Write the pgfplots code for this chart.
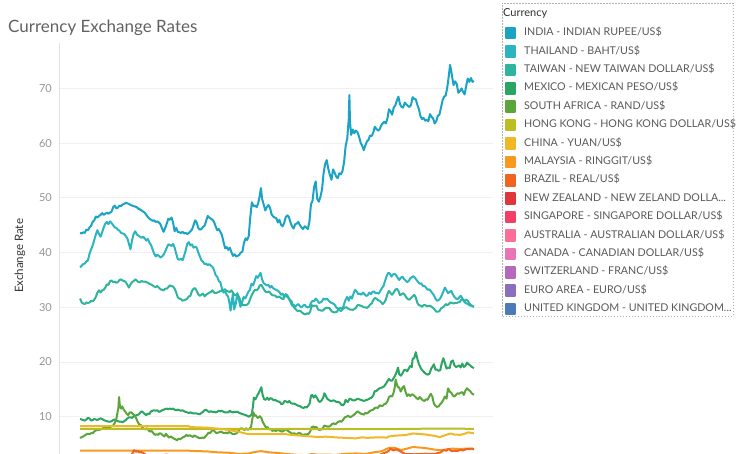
\documentclass[border=0pt]{standalone}
\usepackage{pgfplots}
\pgfplotsset{compat=1.18}
\usepackage{pgfplotstable}
\usepackage{fontspec}
\setmainfont{Lato}
\definecolor{cIND}{HTML}{1BA3C6}
\definecolor{cTHA}{HTML}{2CB5C0}
\definecolor{cTWN}{HTML}{2FB59E}
\definecolor{cMEX}{HTML}{2BA562}
\definecolor{cZAF}{HTML}{5BA63A}
\definecolor{cHKG}{HTML}{BCBD22}
\definecolor{cCHN}{HTML}{EFB826}
\definecolor{cMYS}{HTML}{F7981F}
\definecolor{cBRA}{HTML}{EF6421}
\definecolor{cNZL}{HTML}{E0353A}
\definecolor{cSGP}{HTML}{F43F65}
\definecolor{cAUS}{HTML}{FB6E97}
\definecolor{cCAN}{HTML}{E974B8}
\definecolor{cCHE}{HTML}{B669BC}
\definecolor{cEUR}{HTML}{8A6FBF}
\definecolor{cGBR}{HTML}{4B7CB8}

\pgfplotstableread{
x y
2000.00 43.6
2000.08 43.5
2000.16 43.7
2000.24 43.6
2000.32 44.2
2000.40 44.1
2000.48 44.6
2000.56 44.9
2000.64 45.6
2000.72 45.9
2000.80 46.6
2000.88 46.4
2000.96 46.7
2001.04 46.9
2001.12 47.2
2001.20 46.9
2001.28 47.1
2001.36 47.3
2001.44 47.1
2001.52 47.3
2001.60 47.5
2001.68 48.3
2001.76 48.6
2001.84 48.1
2001.92 48.2
2002.00 48.6
2002.08 48.5
2002.16 48.8
2002.24 48.9
2002.32 49.1
2002.40 49.0
2002.48 48.9
2002.56 48.7
2002.64 48.6
2002.72 48.5
2002.80 48.4
2002.88 48.3
2002.96 48.0
2003.04 47.9
2003.12 47.7
2003.20 47.5
2003.28 47.3
2003.36 46.9
2003.44 46.5
2003.52 46.2
2003.60 46.0
2003.68 45.8
2003.76 45.9
2003.84 45.6
2003.92 45.7
2004.00 45.5
2004.08 45.2
2004.16 44.4
2004.24 43.8
2004.32 44.5
2004.40 45.3
2004.48 46.2
2004.56 46.0
2004.64 46.4
2004.72 45.5
2004.80 43.9
2004.88 44.5
2004.96 43.8
2005.04 43.7
2005.12 43.6
2005.20 43.8
2005.28 43.5
2005.36 43.6
2005.44 43.4
2005.52 43.6
2005.60 43.9
2005.68 44.2
2005.76 45.0
2005.84 45.9
2005.92 45.5
2006.00 44.5
2006.08 44.2
2006.16 44.3
2006.24 44.7
2006.32 44.9
2006.40 45.8
2006.48 46.7
2006.56 46.4
2006.64 46.2
2006.72 46.0
2006.80 45.6
2006.88 44.8
2006.96 44.1
2007.04 44.3
2007.12 43.8
2007.20 43.2
2007.28 42.0
2007.36 40.8
2007.44 41.0
2007.52 40.5
2007.60 40.9
2007.68 40.1
2007.76 39.4
2007.84 39.7
2007.92 39.3
2008.00 39.4
2008.08 39.6
2008.16 40.0
2008.24 40.2
2008.32 41.8
2008.40 42.6
2008.48 42.3
2008.56 43.0
2008.64 46.5
2008.72 49.2
2008.80 48.5
2008.88 48.6
2008.96 48.3
2009.04 49.0
2009.12 50.4
2009.18 51.8
2009.24 49.8
2009.32 48.8
2009.40 47.7
2009.48 48.3
2009.56 48.7
2009.64 48.2
2009.72 47.0
2009.80 46.6
2009.88 46.4
2009.96 46.3
2010.04 45.5
2010.12 46.0
2010.20 45.1
2010.28 44.8
2010.36 45.4
2010.44 46.5
2010.52 46.8
2010.60 46.5
2010.68 45.5
2010.76 44.8
2010.84 44.4
2010.92 45.2
2011.00 45.3
2011.08 45.6
2011.16 45.0
2011.24 44.6
2011.32 44.3
2011.40 44.8
2011.48 44.6
2011.56 44.3
2011.64 45.6
2011.72 48.8
2011.80 49.5
2011.88 52.0
2011.96 53.0
2012.04 49.8
2012.12 49.3
2012.20 50.2
2012.28 51.5
2012.36 54.5
2012.44 56.2
2012.52 56.9
2012.60 55.3
2012.68 54.2
2012.76 53.3
2012.84 55.2
2012.92 54.6
2013.00 53.9
2013.08 53.6
2013.16 54.5
2013.24 54.3
2013.32 54.9
2013.40 56.5
2013.48 59.5
2013.56 60.8
2013.64 64.5
2013.67 68.8
2013.70 64.0
2013.76 61.5
2013.84 62.5
2013.92 61.8
2014.00 62.3
2014.08 62.0
2014.16 61.2
2014.24 60.1
2014.32 59.5
2014.40 58.7
2014.48 59.6
2014.56 60.3
2014.64 60.6
2014.72 61.4
2014.80 61.3
2014.88 61.9
2014.96 63.0
2015.04 62.6
2015.12 62.3
2015.20 62.5
2015.28 63.2
2015.36 63.6
2015.44 63.9
2015.52 63.6
2015.60 64.5
2015.68 66.2
2015.76 65.8
2015.84 65.2
2015.92 66.5
2016.00 66.9
2016.08 67.8
2016.16 68.5
2016.24 67.1
2016.32 66.6
2016.40 66.5
2016.48 67.4
2016.56 67.1
2016.64 66.8
2016.72 66.6
2016.80 67.0
2016.88 68.4
2016.96 68.1
2017.04 68.0
2017.12 67.0
2017.20 66.2
2017.28 64.9
2017.36 64.4
2017.44 64.6
2017.52 64.1
2017.60 64.3
2017.68 64.0
2017.76 65.3
2017.84 64.8
2017.92 64.5
2018.00 63.6
2018.08 64.0
2018.16 65.0
2018.24 65.2
2018.32 66.5
2018.40 67.8
2018.48 68.5
2018.56 68.7
2018.64 70.2
2018.72 72.4
2018.78 74.3
2018.84 73.2
2018.90 71.8
2018.96 70.6
2019.04 71.3
2019.12 70.8
2019.20 69.2
2019.28 69.5
2019.36 70.0
2019.44 69.4
2019.52 68.9
2019.60 70.5
2019.68 71.8
2019.76 71.2
2019.84 71.9
2019.92 71.2
2019.99 71.4
}\tIND

\pgfplotstableread{
x y
2000.00 37.3
2000.08 37.6
2000.16 37.9
2000.24 38.0
2000.32 38.4
2000.40 38.6
2000.48 39.8
2000.56 40.6
2000.64 41.3
2000.72 42.3
2000.80 43.3
2000.88 44.1
2000.96 43.4
2001.04 42.9
2001.12 43.7
2001.20 44.6
2001.28 45.3
2001.36 45.6
2001.44 45.2
2001.52 45.7
2001.60 45.4
2001.68 45.0
2001.76 44.6
2001.84 44.5
2001.92 44.2
2002.00 44.0
2002.08 43.6
2002.16 43.5
2002.24 43.4
2002.32 43.0
2002.40 42.6
2002.48 41.6
2002.56 40.6
2002.64 42.3
2002.72 43.4
2002.80 43.9
2002.88 43.3
2002.96 43.1
2003.04 42.9
2003.12 42.7
2003.20 42.9
2003.28 42.6
2003.36 42.2
2003.44 42.5
2003.52 41.8
2003.60 41.4
2003.68 40.6
2003.76 39.8
2003.84 39.3
2003.92 39.6
2004.00 39.4
2004.08 39.1
2004.16 39.3
2004.24 39.6
2004.32 40.2
2004.40 40.9
2004.48 41.5
2004.56 41.4
2004.64 41.2
2004.72 41.6
2004.80 40.9
2004.88 39.8
2004.96 38.8
2005.04 38.7
2005.12 38.9
2005.20 38.6
2005.28 39.4
2005.36 40.4
2005.44 41.6
2005.52 41.9
2005.60 41.3
2005.68 41.5
2005.76 40.9
2005.84 41.1
2005.92 40.9
2006.00 40.0
2006.08 39.3
2006.16 38.6
2006.24 38.3
2006.32 37.9
2006.40 38.0
2006.48 37.7
2006.56 37.9
2006.64 37.6
2006.72 37.4
2006.80 36.8
2006.88 35.9
2006.96 35.6
2007.04 34.8
2007.12 34.6
2007.20 33.4
2007.28 32.7
2007.36 32.9
2007.44 32.3
2007.52 31.9
2007.58 30.8
2007.64 29.4
2007.70 31.2
2007.76 32.4
2007.82 29.6
2007.90 30.6
2007.98 32.6
2008.06 31.4
2008.14 30.1
2008.22 30.8
2008.30 31.9
2008.38 31.6
2008.46 32.2
2008.54 32.8
2008.62 33.2
2008.70 34.3
2008.78 34.0
2008.86 34.8
2008.94 35.7
2009.02 35.4
2009.10 35.9
2009.16 36.3
2009.24 35.1
2009.32 34.4
2009.40 34.2
2009.48 34.0
2009.56 34.1
2009.64 33.6
2009.72 33.9
2009.80 33.5
2009.88 33.3
2009.96 33.2
2010.04 33.0
2010.12 32.8
2010.20 32.3
2010.28 32.5
2010.36 31.9
2010.44 32.4
2010.52 32.2
2010.60 31.6
2010.68 31.0
2010.76 30.3
2010.84 30.5
2010.92 30.1
2011.00 30.4
2011.08 30.6
2011.16 30.2
2011.24 30.0
2011.32 30.3
2011.40 30.5
2011.48 30.1
2011.56 30.0
2011.64 30.1
2011.72 30.8
2011.80 31.2
2011.88 31.1
2011.96 31.6
2012.04 31.3
2012.12 30.8
2012.20 30.9
2012.28 31.1
2012.36 31.6
2012.44 31.4
2012.52 31.6
2012.60 31.3
2012.68 31.0
2012.76 30.8
2012.84 30.7
2012.92 30.5
2013.00 30.0
2013.08 29.8
2013.16 29.5
2013.24 29.3
2013.32 29.6
2013.40 30.6
2013.48 31.4
2013.56 31.9
2013.64 31.2
2013.72 32.0
2013.80 31.6
2013.88 32.5
2013.96 33.2
2014.04 32.9
2014.12 32.4
2014.20 32.5
2014.28 32.3
2014.36 32.7
2014.44 32.4
2014.52 32.1
2014.60 32.2
2014.68 32.7
2014.76 32.4
2014.84 32.8
2014.92 32.9
2015.00 32.6
2015.08 32.6
2015.16 32.5
2015.24 33.0
2015.32 33.5
2015.40 33.9
2015.48 34.8
2015.56 35.7
2015.64 36.3
2015.72 36.2
2015.80 35.6
2015.88 36.0
2015.96 36.1
2016.04 35.9
2016.12 35.4
2016.20 35.0
2016.28 35.4
2016.36 35.6
2016.44 35.2
2016.52 34.9
2016.60 34.6
2016.68 34.8
2016.76 35.3
2016.84 35.5
2016.92 35.7
2017.00 35.4
2017.08 35.0
2017.16 34.6
2017.24 34.3
2017.32 34.4
2017.40 33.9
2017.48 33.9
2017.56 33.6
2017.64 33.2
2017.72 33.3
2017.80 33.0
2017.88 32.6
2017.96 32.2
2018.04 31.6
2018.12 31.2
2018.20 31.3
2018.28 31.6
2018.36 32.2
2018.44 32.9
2018.52 33.6
2018.60 33.1
2018.68 32.6
2018.76 32.8
2018.84 33.0
2018.92 32.4
2019.00 31.9
2019.08 31.6
2019.16 31.5
2019.24 31.8
2019.32 32.1
2019.40 31.7
2019.48 31.1
2019.56 30.8
2019.64 30.7
2019.72 30.5
2019.80 30.3
2019.88 30.3
2019.99 30.1
}\tTHA

\pgfplotstableread{
x y
2000.00 31.6
2000.08 30.9
2000.16 30.7
2000.24 30.6
2000.32 30.9
2000.40 30.8
2000.48 30.9
2000.56 31.2
2000.64 31.1
2000.72 31.4
2000.80 31.9
2000.88 32.7
2000.96 33.1
2001.04 32.7
2001.12 33.1
2001.20 33.2
2001.28 33.6
2001.36 34.2
2001.44 34.1
2001.52 34.8
2001.60 34.9
2001.68 34.6
2001.76 34.7
2001.84 34.5
2001.92 34.6
2002.00 35.0
2002.08 35.1
2002.16 34.9
2002.24 34.8
2002.32 34.6
2002.40 34.1
2002.48 33.6
2002.56 34.2
2002.64 34.6
2002.72 34.8
2002.80 35.1
2002.88 34.9
2002.96 34.6
2003.04 34.6
2003.12 34.8
2003.20 34.7
2003.28 34.7
2003.36 34.6
2003.44 34.5
2003.52 34.3
2003.60 34.2
2003.68 34.0
2003.76 33.8
2003.84 33.7
2003.92 33.9
2004.00 33.6
2004.08 33.3
2004.16 33.2
2004.24 33.1
2004.32 33.4
2004.40 33.4
2004.48 33.7
2004.56 34.0
2004.64 33.9
2004.72 33.8
2004.80 33.4
2004.88 32.7
2004.96 31.8
2005.04 31.6
2005.12 31.5
2005.20 31.2
2005.28 31.3
2005.36 31.4
2005.44 31.6
2005.52 32.0
2005.60 32.1
2005.68 33.0
2005.76 33.4
2005.84 33.5
2005.92 33.0
2006.00 32.4
2006.08 32.1
2006.16 32.3
2006.24 32.5
2006.32 32.0
2006.40 32.3
2006.48 32.5
2006.56 32.7
2006.64 32.8
2006.72 33.1
2006.80 32.7
2006.88 32.6
2006.96 32.7
2007.04 32.8
2007.12 33.0
2007.20 33.0
2007.28 33.2
2007.36 33.3
2007.44 33.0
2007.52 32.9
2007.60 32.8
2007.68 33.1
2007.76 32.7
2007.84 32.2
2007.92 32.3
2008.00 32.3
2008.08 31.8
2008.16 31.0
2008.24 30.4
2008.32 30.4
2008.40 30.4
2008.48 30.5
2008.56 30.8
2008.64 31.6
2008.72 32.3
2008.80 32.8
2008.88 33.2
2008.96 33.1
2009.04 33.4
2009.12 34.0
2009.20 34.1
2009.28 33.6
2009.36 33.1
2009.44 32.8
2009.52 32.8
2009.60 32.9
2009.68 32.5
2009.76 32.2
2009.84 32.2
2009.92 32.1
2010.00 31.8
2010.08 32.0
2010.16 31.8
2010.24 31.6
2010.32 31.5
2010.40 32.2
2010.48 32.0
2010.56 31.8
2010.64 31.4
2010.72 31.2
2010.80 30.4
2010.88 29.9
2010.96 29.6
2011.04 29.3
2011.12 29.4
2011.20 29.3
2011.28 29.0
2011.36 28.8
2011.44 28.7
2011.52 28.9
2011.60 28.8
2011.68 29.2
2011.76 30.4
2011.84 30.2
2011.92 30.3
2012.00 30.3
2012.08 29.6
2012.16 29.5
2012.24 29.4
2012.32 29.4
2012.40 29.7
2012.48 29.9
2012.56 29.9
2012.64 29.9
2012.72 29.5
2012.80 29.2
2012.88 29.1
2012.96 29.1
2013.04 29.2
2013.12 29.7
2013.20 29.9
2013.28 29.8
2013.36 29.7
2013.44 30.0
2013.52 30.0
2013.60 29.8
2013.68 29.6
2013.76 29.6
2013.84 29.5
2013.92 29.7
2014.00 29.9
2014.08 30.4
2014.16 30.4
2014.24 30.3
2014.32 30.2
2014.40 30.0
2014.48 30.0
2014.56 29.9
2014.64 30.1
2014.72 30.5
2014.80 30.7
2014.88 31.3
2014.96 31.7
2015.04 31.6
2015.12 31.3
2015.20 31.2
2015.28 30.9
2015.36 30.6
2015.44 30.9
2015.52 31.4
2015.60 32.4
2015.68 33.0
2015.76 32.6
2015.84 32.3
2015.92 32.7
2016.00 33.2
2016.08 33.4
2016.16 33.0
2016.24 32.2
2016.32 32.4
2016.40 32.6
2016.48 32.3
2016.56 31.8
2016.64 31.5
2016.72 31.4
2016.80 31.7
2016.88 32.0
2016.96 32.3
2017.04 31.8
2017.12 30.8
2017.20 30.4
2017.28 30.3
2017.36 30.1
2017.44 30.4
2017.52 30.4
2017.60 30.2
2017.68 30.2
2017.76 30.3
2017.84 30.1
2017.92 29.9
2018.00 29.6
2018.08 29.2
2018.16 29.2
2018.24 29.3
2018.32 29.8
2018.40 30.0
2018.48 30.2
2018.56 30.6
2018.64 30.4
2018.72 30.6
2018.80 30.9
2018.88 30.8
2018.96 30.7
2019.04 30.8
2019.12 30.8
2019.20 30.9
2019.28 31.0
2019.36 31.5
2019.44 31.4
2019.52 31.1
2019.60 31.4
2019.68 31.2
2019.76 30.7
2019.84 30.4
2019.92 30.2
2019.99 30.1
}\tTWN

\pgfplotstableread{
x y
2000.00 9.6
2000.08 9.5
2000.16 9.4
2000.24 9.3
2000.32 9.5
2000.40 9.8
2000.48 9.7
2000.56 9.3
2000.64 9.4
2000.72 9.6
2000.80 9.5
2000.88 9.4
2000.96 9.6
2001.04 9.7
2001.12 9.6
2001.20 9.4
2001.28 9.3
2001.36 9.2
2001.44 9.1
2001.52 9.1
2001.60 9.2
2001.68 9.4
2001.76 9.5
2001.84 9.3
2001.92 9.2
2002.00 9.1
2002.08 9.1
2002.16 9.0
2002.24 9.2
2002.32 9.4
2002.40 9.7
2002.48 9.9
2002.56 9.9
2002.64 9.8
2002.72 10.1
2002.80 10.2
2002.88 10.3
2002.96 10.4
2003.04 10.7
2003.12 11.0
2003.20 10.8
2003.28 10.5
2003.36 10.3
2003.44 10.6
2003.52 10.5
2003.60 11.0
2003.68 11.1
2003.76 11.2
2003.84 11.1
2003.92 11.2
2004.00 10.9
2004.08 11.0
2004.16 11.2
2004.24 11.3
2004.32 11.4
2004.40 11.5
2004.48 11.4
2004.56 11.5
2004.64 11.4
2004.72 11.5
2004.80 11.3
2004.88 11.2
2004.96 11.3
2005.04 11.2
2005.12 11.1
2005.20 11.2
2005.28 11.0
2005.36 10.9
2005.44 10.8
2005.52 10.7
2005.60 10.8
2005.68 10.7
2005.76 10.6
2005.84 10.6
2005.92 10.6
2006.00 10.5
2006.08 10.5
2006.16 10.7
2006.24 10.9
2006.32 11.2
2006.40 11.3
2006.48 11.0
2006.56 10.9
2006.64 11.0
2006.72 10.9
2006.80 10.9
2006.88 10.8
2006.96 10.9
2007.04 11.1
2007.12 11.0
2007.20 11.1
2007.28 10.9
2007.36 10.8
2007.44 10.8
2007.52 10.8
2007.60 11.1
2007.68 10.9
2007.76 10.8
2007.84 10.9
2007.92 10.9
2008.00 10.9
2008.08 10.7
2008.16 10.6
2008.24 10.5
2008.32 10.4
2008.40 10.3
2008.48 10.2
2008.56 10.0
2008.64 10.2
2008.72 10.5
2008.78 12.0
2008.82 13.5
2008.90 13.2
2008.98 13.8
2009.06 14.3
2009.14 14.9
2009.20 15.4
2009.26 14.1
2009.34 13.2
2009.42 13.1
2009.50 13.5
2009.58 13.1
2009.66 13.4
2009.74 13.3
2009.82 13.0
2009.90 13.1
2009.98 12.9
2010.06 12.8
2010.14 12.7
2010.22 12.3
2010.30 12.4
2010.38 12.9
2010.46 12.8
2010.54 12.6
2010.62 12.9
2010.70 12.5
2010.78 12.4
2010.86 12.4
2010.94 12.3
2011.02 12.1
2011.10 12.0
2011.18 11.9
2011.26 11.7
2011.34 11.6
2011.42 11.8
2011.50 11.7
2011.58 12.0
2011.66 12.5
2011.72 13.8
2011.78 14.0
2011.86 13.5
2011.94 13.9
2012.02 13.5
2012.10 12.9
2012.18 12.7
2012.26 13.0
2012.34 13.5
2012.40 14.3
2012.46 13.9
2012.54 13.3
2012.62 13.1
2012.70 12.9
2012.78 12.9
2012.86 13.0
2012.94 12.9
2013.02 12.7
2013.10 12.7
2013.18 12.6
2013.26 12.2
2013.34 12.1
2013.42 12.4
2013.48 13.1
2013.54 12.8
2013.60 12.7
2013.68 13.3
2013.76 13.2
2013.84 13.0
2013.92 13.0
2014.00 13.1
2014.08 13.3
2014.16 13.2
2014.24 13.1
2014.32 13.0
2014.40 12.9
2014.48 13.0
2014.56 13.1
2014.64 13.2
2014.72 13.4
2014.80 13.5
2014.88 13.9
2014.96 14.7
2015.04 14.7
2015.12 15.0
2015.20 15.2
2015.28 15.3
2015.36 15.4
2015.44 15.6
2015.52 16.0
2015.60 16.5
2015.68 16.9
2015.76 16.6
2015.84 16.6
2015.92 17.1
2016.00 17.6
2016.08 18.3
2016.14 19.0
2016.20 17.8
2016.28 17.5
2016.36 17.9
2016.44 18.5
2016.52 18.6
2016.60 18.3
2016.68 18.8
2016.76 19.3
2016.84 19.1
2016.88 20.6
2016.96 20.7
2017.04 21.8
2017.08 21.2
2017.14 20.3
2017.20 19.6
2017.28 19.0
2017.34 18.6
2017.42 18.3
2017.50 18.0
2017.58 17.8
2017.66 17.7
2017.74 17.9
2017.82 18.8
2017.90 19.2
2017.96 19.6
2018.04 18.6
2018.12 18.6
2018.20 18.4
2018.28 18.5
2018.36 19.8
2018.44 20.7
2018.52 19.8
2018.60 18.8
2018.68 19.0
2018.76 18.9
2018.84 20.1
2018.92 20.3
2019.00 19.4
2019.08 19.1
2019.16 19.2
2019.24 19.4
2019.32 19.0
2019.40 19.7
2019.48 19.1
2019.56 19.3
2019.64 19.9
2019.72 19.6
2019.80 19.4
2019.88 19.1
2019.99 18.9
}\tMEX

\pgfplotstableread{
x y
2000.00 6.1
2000.08 6.3
2000.16 6.4
2000.24 6.6
2000.32 6.8
2000.40 6.9
2000.48 6.8
2000.56 7.0
2000.64 7.0
2000.72 7.3
2000.80 7.5
2000.88 7.6
2000.96 7.6
2001.04 7.7
2001.12 7.8
2001.20 8.0
2001.28 8.1
2001.36 7.9
2001.44 8.0
2001.52 8.1
2001.60 8.3
2001.68 8.4
2001.76 8.9
2001.84 9.6
2001.88 10.4
2001.94 11.5
2001.98 13.6
2002.02 12.0
2002.08 11.5
2002.14 11.9
2002.20 11.4
2002.28 11.0
2002.36 10.6
2002.44 10.3
2002.52 10.8
2002.60 10.8
2002.68 10.5
2002.76 10.3
2002.84 9.8
2002.92 9.1
2003.00 8.6
2003.08 8.5
2003.16 8.0
2003.24 7.8
2003.32 7.7
2003.40 7.9
2003.48 7.5
2003.56 7.3
2003.64 7.4
2003.72 7.0
2003.80 6.7
2003.88 6.8
2003.96 6.7
2004.04 7.0
2004.12 6.9
2004.20 6.6
2004.28 6.4
2004.36 6.9
2004.44 6.5
2004.52 6.2
2004.60 6.4
2004.68 6.2
2004.76 6.0
2004.84 5.9
2004.92 5.7
2005.00 6.0
2005.08 5.9
2005.16 6.1
2005.24 6.3
2005.32 6.4
2005.40 6.7
2005.48 6.5
2005.56 6.6
2005.64 6.5
2005.72 6.3
2005.80 6.6
2005.88 6.4
2005.96 6.3
2006.04 6.1
2006.12 6.1
2006.20 6.2
2006.28 6.1
2006.36 6.4
2006.44 6.7
2006.52 7.1
2006.60 7.0
2006.68 7.4
2006.76 7.6
2006.84 7.3
2006.92 7.0
2007.00 7.1
2007.08 7.2
2007.16 7.3
2007.24 7.1
2007.32 7.0
2007.40 7.1
2007.48 7.0
2007.56 7.2
2007.64 7.1
2007.72 6.9
2007.80 6.8
2007.88 6.9
2007.96 7.0
2008.04 7.4
2008.12 7.8
2008.20 7.9
2008.28 7.7
2008.36 7.6
2008.44 7.9
2008.52 7.6
2008.60 7.8
2008.68 8.2
2008.74 9.5
2008.80 10.8
2008.86 10.2
2008.92 10.3
2008.98 9.9
2009.04 9.8
2009.12 10.1
2009.20 9.8
2009.28 9.0
2009.36 8.5
2009.44 8.0
2009.52 8.1
2009.60 7.7
2009.68 7.8
2009.76 7.4
2009.84 7.6
2009.92 7.4
2010.00 7.5
2010.08 7.6
2010.16 7.4
2010.24 7.3
2010.32 7.4
2010.40 7.7
2010.48 7.6
2010.56 7.4
2010.64 7.2
2010.72 7.0
2010.80 6.9
2010.88 7.0
2010.96 6.7
2011.04 6.9
2011.12 7.1
2011.20 6.9
2011.28 6.7
2011.36 6.7
2011.44 6.8
2011.52 6.8
2011.60 6.9
2011.68 7.3
2011.76 8.1
2011.84 8.2
2011.92 8.1
2012.00 8.1
2012.08 7.7
2012.16 7.6
2012.24 7.7
2012.32 7.9
2012.40 8.4
2012.48 8.3
2012.56 8.2
2012.64 8.2
2012.72 8.4
2012.80 8.7
2012.88 8.8
2012.96 8.6
2013.04 8.9
2013.12 9.1
2013.20 9.2
2013.28 9.1
2013.36 9.5
2013.44 9.9
2013.52 10.0
2013.60 10.2
2013.68 10.0
2013.76 10.0
2013.84 10.2
2013.92 10.4
2014.00 10.7
2014.08 11.0
2014.16 10.8
2014.24 10.6
2014.32 10.5
2014.40 10.4
2014.48 10.7
2014.56 10.6
2014.64 10.8
2014.72 11.1
2014.80 11.2
2014.88 11.3
2014.96 11.6
2015.04 11.7
2015.12 11.6
2015.20 12.1
2015.28 12.0
2015.36 12.0
2015.44 12.3
2015.52 12.4
2015.60 12.8
2015.68 13.6
2015.76 13.8
2015.84 13.7
2015.92 14.5
2015.98 15.5
2016.02 16.8
2016.06 16.2
2016.12 15.5
2016.20 15.3
2016.28 14.6
2016.36 15.3
2016.44 15.6
2016.52 14.6
2016.60 13.8
2016.68 14.1
2016.76 13.8
2016.84 14.1
2016.92 14.0
2017.00 13.7
2017.08 13.4
2017.16 13.2
2017.24 13.6
2017.32 13.3
2017.40 13.0
2017.48 12.9
2017.56 13.2
2017.64 13.1
2017.72 13.7
2017.80 14.2
2017.88 13.7
2017.96 12.4
2018.04 12.0
2018.12 11.8
2018.20 11.9
2018.28 12.3
2018.36 12.6
2018.44 13.1
2018.52 13.7
2018.60 13.3
2018.68 15.2
2018.76 14.6
2018.84 14.4
2018.92 13.9
2019.00 13.7
2019.08 14.0
2019.16 14.3
2019.24 14.2
2019.32 14.4
2019.40 14.5
2019.48 14.0
2019.56 14.8
2019.64 15.2
2019.72 14.9
2019.80 14.7
2019.88 14.3
2019.99 14.0
}\tZAF

\pgfplotstableread{
x y
2000.00 7.78
2001.00 7.80
2002.00 7.80
2003.00 7.80
2004.00 7.77
2005.00 7.78
2006.00 7.76
2007.00 7.80
2008.00 7.78
2009.00 7.75
2010.00 7.77
2011.00 7.78
2012.00 7.76
2013.00 7.76
2014.00 7.75
2015.00 7.75
2016.00 7.76
2017.00 7.80
2018.00 7.84
2019.00 7.84
2019.99 7.79
}\tHKG

\pgfplotstableread{
x y
2000.00 8.28
2005.54 8.28
2005.56 8.11
2006.00 8.07
2006.50 8.00
2007.00 7.82
2007.50 7.60
2008.00 7.30
2008.50 6.85
2009.00 6.84
2010.00 6.83
2010.45 6.82
2010.60 6.74
2011.00 6.60
2011.50 6.47
2012.00 6.32
2012.50 6.36
2013.00 6.23
2013.50 6.14
2014.00 6.05
2014.30 6.24
2014.60 6.15
2015.00 6.23
2015.60 6.21
2015.64 6.39
2016.00 6.55
2016.50 6.65
2016.90 6.95
2017.50 6.78
2018.00 6.50
2018.25 6.28
2018.50 6.60
2018.80 6.95
2019.00 6.75
2019.30 6.70
2019.50 6.87
2019.70 7.15
2019.99 6.98
}\tCHN

\pgfplotstableread{
x y
2000.00 3.80
2005.54 3.80
2005.60 3.77
2006.00 3.73
2006.50 3.66
2007.00 3.50
2007.50 3.45
2008.00 3.24
2008.50 3.25
2008.90 3.60
2009.20 3.72
2009.60 3.50
2010.00 3.40
2010.50 3.20
2011.00 3.05
2011.50 3.00
2011.80 3.20
2012.00 3.10
2013.00 3.05
2013.50 3.25
2014.00 3.30
2014.50 3.20
2014.90 3.50
2015.30 3.70
2015.70 4.35
2016.00 4.30
2016.30 3.90
2016.90 4.48
2017.50 4.30
2018.00 4.00
2018.30 3.90
2018.90 4.18
2019.30 4.10
2019.60 4.20
2019.99 4.10
}\tMYS

\pgfplotstableread{
x y
2000.00 1.80
2001.00 2.30
2002.40 2.50
2002.60 3.00
2002.70 3.60
2002.75 3.90
2002.80 3.70
2002.85 3.60
2002.92 3.75
2003.00 3.50
2003.10 3.55
2003.20 3.40
2003.40 2.90
2004.00 2.90
2004.40 3.10
2005.00 2.70
2006.00 2.20
2008.50 1.60
2008.90 2.40
2009.50 2.00
2011.50 1.60
2012.50 2.00
2013.50 2.30
2014.50 2.30
2015.00 2.65
2015.30 3.20
2015.60 3.60
2015.70 3.90
2015.75 4.20
2015.90 3.85
2016.05 4.05
2016.30 3.60
2016.50 3.20
2017.00 3.15
2017.50 3.25
2018.00 3.20
2018.30 3.50
2018.45 3.90
2018.60 3.80
2018.70 4.15
2018.85 3.75
2019.00 3.80
2019.15 3.75
2019.30 3.95
2019.45 3.85
2019.60 4.10
2019.75 4.15
2019.90 4.20
2019.99 4.00
}\tBRA

\pgfplotstableread{
x y
2000.0 1.95
2001.0 2.40
2005.0 1.40
2008.0 1.30
2009.0 1.90
2011.0 1.20
2015.0 1.50
2019.99 1.50
}\tNZL
\pgfplotstableread{
x y
2000.0 1.70
2001.0 1.80
2005.0 1.70
2008.0 1.50
2009.0 1.40
2011.0 1.25
2015.0 1.38
2019.99 1.35
}\tSGP
\pgfplotstableread{
x y
2000.0 1.50
2001.0 1.95
2005.0 1.30
2008.0 1.10
2009.0 1.50
2011.0 0.95
2015.0 1.30
2019.99 1.45
}\tAUS
\pgfplotstableread{
x y
2000.0 1.45
2002.0 1.60
2005.0 1.20
2008.0 1.00
2009.0 1.25
2011.0 1.00
2016.0 1.30
2019.99 1.30
}\tCAN
\pgfplotstableread{
x y
2000.0 1.60
2001.0 1.70
2005.0 1.25
2008.0 1.05
2011.0 0.90
2015.0 0.95
2019.99 1.00
}\tCHE
\pgfplotstableread{
x y
2000.0 1.00
2001.0 1.15
2005.0 0.80
2008.0 0.70
2011.0 0.75
2015.0 0.90
2019.99 0.90
}\tEUR
\pgfplotstableread{
x y
2000.0 0.65
2001.0 0.70
2005.0 0.55
2008.0 0.50
2009.0 0.65
2015.0 0.65
2019.99 0.78
}\tGBR

\begin{document}
\begin{tikzpicture}
\useasboundingbox (0,0) rectangle (736pt,454pt);
\begin{axis}[
  at={(59pt,0pt)}, anchor=south west,
  scale only axis, width=434pt, height=411pt,
  xmin=1998.93, xmax=2020.96, ymin=3.2, ymax=78.3,
  axis lines=left,
  axis line style={-, draw=black!12, line width=0.8pt},
  x axis line style={draw=none},
  xtick=\empty,
  ytick={10,20,...,70},
  major tick length=0pt,
  ymajorgrids, grid style={draw=black!6, line width=0.8pt},
  /pgf/number format/assume math mode=true,
  yticklabel style={font=\fontsize{11}{13}\selectfont, text=black!42, inner sep=0pt, xshift=-7pt},
  ylabel={\fontsize{11.5}{13}\selectfont Exchange Rate},
  ylabel style={at={(axis description cs:-0.0899,0.482)}, anchor=center, text=black!80},
  title={Currency Exchange Rates},
  title style={at={(axis description cs:-0.1175,1.012)}, anchor=base west, font=\fontsize{17}{20}\selectfont, text=black!62, inner sep=0pt},
  legend image code/.code={\fill[#1] (0pt,-5.3pt) rectangle (8.5pt,5.3pt);},
  legend cell align=left,
  legend style={at={(axis description cs:1.0276,1.0401)}, anchor=north west, draw=none, fill=none,
    font=\fontsize{10.7}{12}\selectfont, text=black!65, inner sep=0pt,
    nodes={inner sep=0pt, text height=7.5pt, text depth=2pt},
    row sep=5.8pt,
    /tikz/every odd column/.append style={column sep=8.5pt}},
  every axis plot/.append style={line width=2pt, line join=round},
]
\addplot[cIND] table {\tIND}; \addlegendentry{INDIA - INDIAN RUPEE/US\$}
\addplot[cTHA] table {\tTHA}; \addlegendentry{THAILAND - BAHT/US\$}
\addplot[cTWN] table {\tTWN}; \addlegendentry{TAIWAN - NEW TAIWAN DOLLAR/US\$}
\addplot[cMEX] table {\tMEX}; \addlegendentry{MEXICO - MEXICAN PESO/US\$}
\addplot[cZAF] table {\tZAF}; \addlegendentry{SOUTH AFRICA - RAND/US\$}
\addplot[cHKG] table {\tHKG}; \addlegendentry{HONG KONG - HONG KONG DOLLAR/US\$}
\addplot[cCHN] table {\tCHN}; \addlegendentry{CHINA - YUAN/US\$}
\addplot[cMYS] table {\tMYS}; \addlegendentry{MALAYSIA - RINGGIT/US\$}
\addplot[cBRA] table {\tBRA}; \addlegendentry{BRAZIL - REAL/US\$}
\addplot[cNZL] table {\tNZL}; \addlegendentry{NEW ZEALAND - NEW ZELAND DOLLA...}
\addplot[cSGP] table {\tSGP}; \addlegendentry{SINGAPORE - SINGAPORE DOLLAR/US\$}
\addplot[cAUS] table {\tAUS}; \addlegendentry{AUSTRALIA - AUSTRALIAN DOLLAR/US\$}
\addplot[cCAN] table {\tCAN}; \addlegendentry{CANADA - CANADIAN DOLLAR/US\$}
\addplot[cCHE] table {\tCHE}; \addlegendentry{SWITZERLAND - FRANC/US\$}
\addplot[cEUR] table {\tEUR}; \addlegendentry{EURO AREA - EURO/US\$}
\addplot[cGBR] table {\tGBR}; \addlegendentry{UNITED KINGDOM - UNITED KINGDOM...}
\end{axis}
\draw[black!30, dash pattern=on 1.5pt off 1.5pt, line width=0.6pt] (502pt,138pt) rectangle (733pt,451pt);
\node[anchor=base west, inner sep=0pt, font=\fontsize{11}{13}\selectfont, text=black!82] at (503pt,437pt) {Currency};
\end{tikzpicture}
\end{document}
